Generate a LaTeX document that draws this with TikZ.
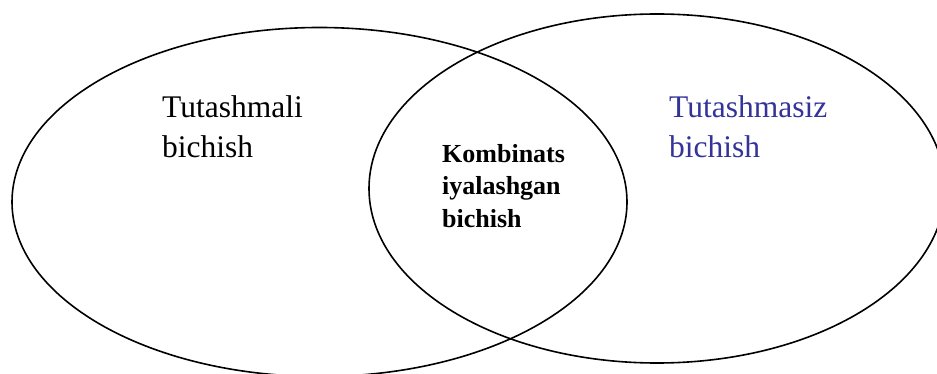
\documentclass[tikz,border=0pt]{standalone}
\usepackage{fontspec}
\setmainfont{Liberation Serif}
\definecolor{setblue}{RGB}{51,51,153}
\begin{document}
\begin{tikzpicture}[x=1pt,y=-1pt,
  setline/.style={line width=1.6pt,black},
  bigtext/.style={anchor=base west,inner sep=0pt,align=left,font=\fontsize{31.5}{40}\selectfont},
  midtext/.style={anchor=base west,inner sep=0pt,align=left,font=\fontsize{26}{33}\selectfont\bfseries}]
\useasboundingbox (0,0) rectangle (937,374);
\begin{scope}
\clip (0,0) rectangle (937,374);
\draw[setline] (319.5,202) ellipse [x radius=307.5, y radius=174.5];
\draw[setline] (657,188.5) ellipse [x radius=288, y radius=174.5];
\end{scope}
\node[bigtext] (left) at (162,158) {Tutashmali\\bichish};
\node[bigtext,text=setblue] (right) at (669,158) {Tutashmasiz\\bichish};
\node[midtext] (mid) at (442,228) {Kombinats\\iyalashgan\\bichish};
\end{tikzpicture}
\end{document}
